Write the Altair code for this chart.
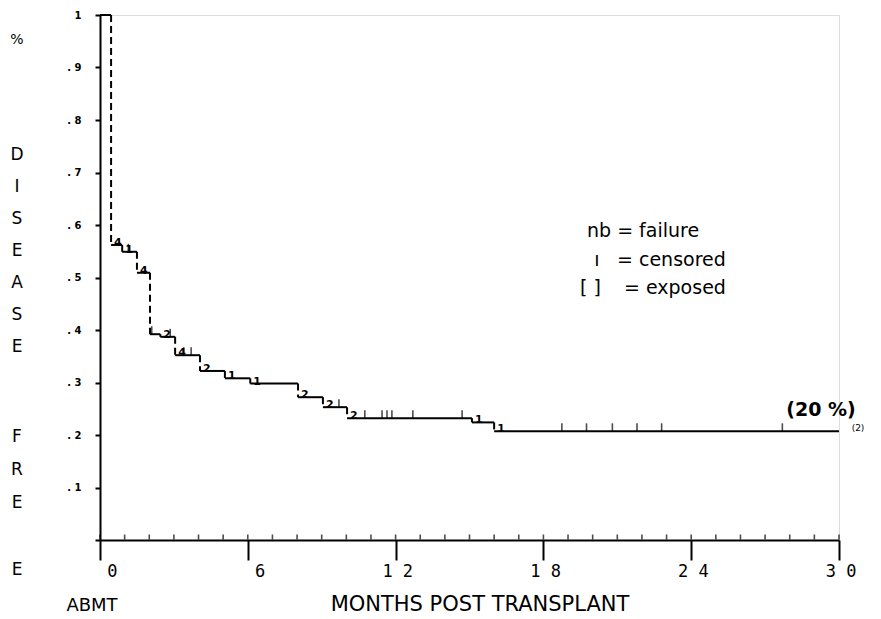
import altair as alt
import pandas as pd

# ---- data ----
drop_months = [0.45, 0.9, 1.5, 2.03, 2.45, 3.05, 4.06, 5.07, 6.1, 8.04, 9.05, 10.03, 15.1, 16.0]
levels_after = [0.562, 0.549, 0.509, 0.392, 0.387, 0.352, 0.322, 0.308, 0.298, 0.272, 0.253, 0.232, 0.224, 0.207]
failure_counts = ["4", "1", "4", "", "2", "4", "2", "1", "1", "2", "2", "2", "1", "1"]
censor_months = [1.15, 2.1, 2.85, 3.4, 3.7, 9.7, 10.75, 11.45, 11.65, 11.85, 12.7, 14.7,
                 18.75, 19.75, 20.8, 21.8, 22.8, 27.7]
follow_up_end = 30
x_tick_values = [0, 6, 12, 18, 24, 30]
x_tick_text = ["0", "6", "1 2", "1 8", "2 4", "3 0"]
y_tick_values = [0, 0.1, 0.2, 0.3, 0.4, 0.5, 0.6, 0.7, 0.8, 0.9, 1.0]
minor_months = list(range(0, 31))
y_title_letters = ["%", "D", "I", "S", "E", "A", "S", "E", "F", "R", "E", "E"]

# ---- tables ----
starts = [0] + drop_months
ends = drop_months + [follow_up_end]
lv = [1.0] + levels_after
horiz = pd.DataFrame({"t": starts, "t2": ends, "s": lv})
vert = pd.DataFrame({"t": drop_months, "s": lv[:-1], "s2": levels_after, "n": failure_counts})


def level_at(m):
    k = 0
    for i, st in enumerate(starts):
        if st <= m:
            k = i
    return lv[k]


cens = pd.DataFrame({"t": censor_months, "s": [level_at(m) for m in censor_months]})
minor = pd.DataFrame({"t": minor_months, "s": [0] * len(minor_months)})

label_map = "{" + ",".join(f"'{v}':'{t}'" for v, t in zip(x_tick_values, x_tick_text)) + "}"

xscale = alt.Scale(domain=[0, 30], nice=False, zero=False)
yscale = alt.Scale(domain=[0, 1], nice=False)

xaxis = alt.Axis(values=x_tick_values, labelExpr=f"{label_map}[datum.value]",
                 tickSize=20, tickWidth=2, tickColor="black", domainColor="black", domainWidth=2,
                 labelFont="DejaVu Sans Mono", labelFontSize=17, labelColor="black",
                 labelAlign="right", labelOffset=17, labelPadding=3, labelBaseline="top",
                 title=None, grid=False)
yaxis = alt.Axis(values=y_tick_values,
                 labelExpr="datum.value == 0 ? '' : (datum.value == 1 ? '1' : '. ' + round(datum.value*10))",
                 tickSize=5, tickWidth=2, tickColor="black", domainColor="black", domainWidth=2,
                 labelFont="DejaVu Sans", labelFontWeight="bold", labelFontSize=10, labelColor="black",
                 labelPadding=14, title=None, grid=False)

X = alt.X("t:Q", scale=xscale, axis=xaxis)
Y = alt.Y("s:Q", scale=yscale, axis=yaxis)

h_layer = alt.Chart(horiz).mark_rule(color="black", strokeWidth=2).encode(x=X, x2="t2:Q", y=Y)
v_layer = alt.Chart(vert).mark_rule(color="black", strokeWidth=2, strokeDash=[7, 4]).encode(
    x=X, y=Y, y2="s2:Q")
n_layer = alt.Chart(vert).mark_text(font="DejaVu Sans", fontWeight="bold", fontSize=11,
                                    align="left", baseline="bottom", dx=3, dy=3, color="black").encode(
    x=X, y=alt.Y("s2:Q", scale=yscale, axis=yaxis), text="n:N")
c_layer = alt.Chart(cens).mark_tick(orient="vertical", size=8, thickness=1.6, color="black",
                                    yOffset=-4).encode(x=X, y=Y)
m_layer = alt.Chart(minor).mark_tick(orient="vertical", size=5, thickness=1.6, color="black",
                                     yOffset=-3).encode(x=X, y=Y)

TXT = dict(font="DejaVu Sans", color="black")

# vertical title letters: page y of each letter centre minus plot top (15)
letter_y = [25, 140, 172, 204, 236, 268, 300, 332, 422, 455, 488, 555]
letters = [alt.Chart().mark_text(text=ch, fontSize=(14 if ch == "%" else 17), **TXT).encode(
    x=alt.value(-83), y=alt.value(yy)) for ch, yy in zip(y_title_letters, letter_y)]

abmt = alt.Chart().mark_text(text="ABMT", fontSize=18, baseline="alphabetic", **TXT).encode(
    x=alt.value(-8), y=alt.value(596))
xtitle = alt.Chart().mark_text(text="MONTHS POST TRANSPLANT", fontSize=21, baseline="alphabetic",
                               **TXT).encode(x=alt.value(380), y=alt.value(596))

leg1 = alt.Chart().mark_text(text="nb = failure", fontSize=19, align="left", **TXT).encode(
    x=alt.value(487), y=alt.value(216))
leg2a = alt.Chart().mark_text(text="ı", fontSize=19, align="center", **TXT).encode(
    x=alt.value(497), y=alt.value(245))
leg2b = alt.Chart().mark_text(text="= censored", fontSize=19, align="left", **TXT).encode(
    x=alt.value(517), y=alt.value(245))
leg3a = alt.Chart().mark_text(text="[ ]", fontSize=19, align="left", **TXT).encode(
    x=alt.value(480), y=alt.value(273))
leg3b = alt.Chart().mark_text(text="= exposed", fontSize=19, align="left", **TXT).encode(
    x=alt.value(524), y=alt.value(273))

p20 = alt.Chart().mark_text(text="(20 %)", fontSize=19, fontWeight="bold", **TXT).encode(
    x=alt.value(721), y=alt.value(395))
p2 = alt.Chart().mark_text(text="(2)", fontSize=9, **TXT).encode(x=alt.value(758), y=alt.value(413))

chart = alt.layer(h_layer, v_layer, n_layer, c_layer, m_layer, *letters, abmt, xtitle,
                  leg1, leg2a, leg2b, leg3a, leg3b, p20, p2).properties(
    width=739, height=525,
    autosize=alt.AutoSizeParams(type="none"),
    padding={"left": 92, "top": 7, "right": 34, "bottom": 76},
).configure_view(stroke=None).configure(background="white")

chart.save("out.html", embed_options={"renderer": "svg", "actions": False})
